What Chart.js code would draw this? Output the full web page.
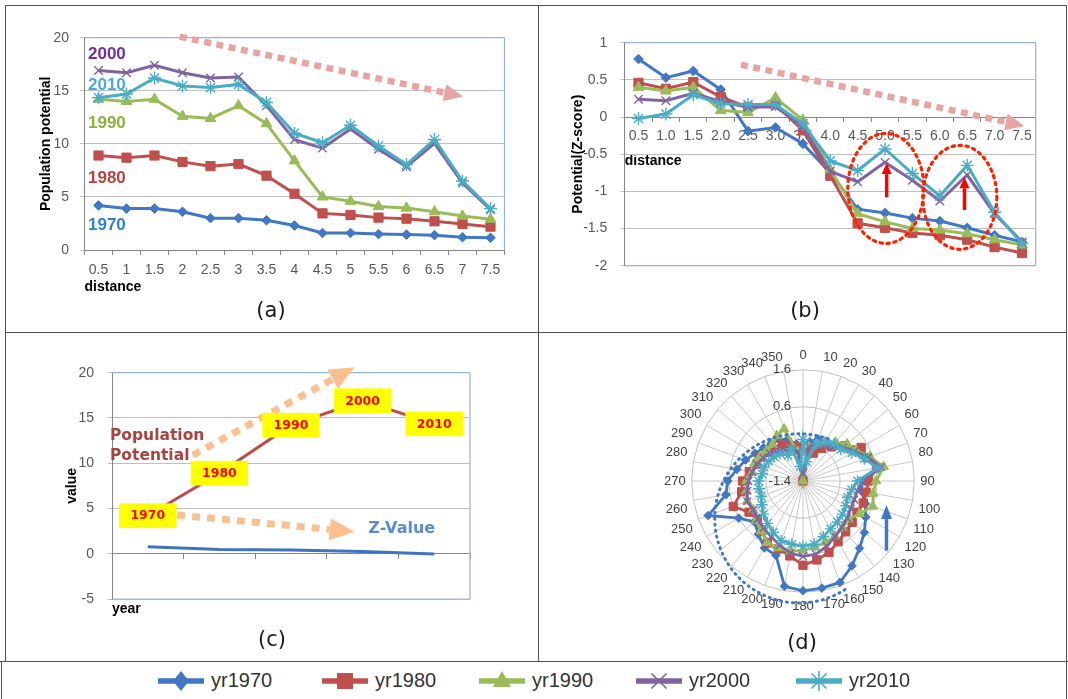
<!DOCTYPE html>
<html><head><meta charset="utf-8">
<script src="https://cdn.jsdelivr.net/npm/chart.js@4.4.1/dist/chart.umd.min.js"></script>
<style>
html,body{margin:0;padding:0;background:#fff}
body{position:relative;width:1068px;height:699px;overflow:hidden;font-family:"Liberation Sans",Arial,sans-serif}
canvas{position:absolute}
.ln{position:absolute;background:#505050}
.cap{position:absolute;font:21px "DejaVu Sans",sans-serif;color:#1a1a1a;transform:translate(-50%,-50%);white-space:nowrap}
.li{position:absolute;top:662px;height:37px;display:flex;align-items:center}
.li canvas{position:static}
.li span{font:20px "Liberation Sans",Arial,sans-serif;color:#333;margin-left:5px}
</style></head><body>
<div class="ln" style="left:5px;top:5px;width:1062px;height:1px"></div>
<div class="ln" style="left:5px;top:332px;width:1062px;height:1px"></div>
<div class="ln" style="left:0px;top:661px;width:1068px;height:1px"></div>
<div class="ln" style="left:5px;top:5px;width:1px;height:656px"></div>
<div class="ln" style="left:538px;top:5px;width:1px;height:656px"></div>
<div class="ln" style="left:1066px;top:5px;width:1px;height:694px"></div>
<div class="ln" style="left:1px;top:661px;width:1px;height:38px"></div>

<canvas id="ca" width="538" height="330" style="left:0;top:0"></canvas>
<canvas id="cb" width="530" height="330" style="left:538px;top:0"></canvas>
<canvas id="cc" width="538" height="332" style="left:0;top:330px"></canvas>
<canvas id="cd" width="300" height="300" style="left:653px;top:332px"></canvas>

<div class="cap" style="left:271px;top:310px">(a)</div>
<div class="cap" style="left:805px;top:310px">(b)</div>
<div class="cap" style="left:272px;top:639px">(c)</div>
<div class="cap" style="left:802px;top:642px">(d)</div>

<script>
// ---------------- DATA ----------------
const seriesNames = ['yr1970','yr1980','yr1990','yr2000','yr2010'];
const distA = ['0.5','1','1.5','2','2.5','3','3.5','4','4.5','5','5.5','6','6.5','7','7.5'];
const distB = ['0.5','1.0','1.5','2.0','2.5','3.0','3.5','4.0','4.5','5.0','5.5','6.0','6.5','7.0','7.5'];

// (a) population potential by distance
const pop1970 = [4.2,3.9,3.9,3.6,3.0,3.0,2.8,2.3,1.6,1.6,1.5,1.45,1.4,1.2,1.15];
const pop1980 = [8.9,8.7,8.9,8.3,7.9,8.1,7.0,5.3,3.45,3.3,3.05,2.95,2.7,2.45,2.2];
const pop1990 = [14.2,14.0,14.2,12.6,12.4,13.6,11.9,8.4,5.0,4.6,4.1,3.95,3.6,3.2,2.9];
const pop2000 = [16.9,16.7,17.4,16.7,16.2,16.3,13.6,10.4,9.6,11.4,9.5,7.85,10.05,6.3,3.8];
const pop2010 = [14.35,14.7,16.2,15.45,15.3,15.6,13.9,11.0,10.1,11.75,9.8,8.05,10.4,6.5,3.9];

// (b) potential z-score by distance
const z1970 = [0.78,0.53,0.62,0.37,-0.19,-0.14,-0.36,-0.75,-1.24,-1.29,-1.36,-1.40,-1.49,-1.59,-1.68];
const z1980 = [0.46,0.38,0.47,0.27,0.13,0.17,-0.18,-0.79,-1.43,-1.49,-1.56,-1.59,-1.65,-1.75,-1.83];
const z1990 = [0.40,0.35,0.40,0.09,0.06,0.26,-0.04,-0.71,-1.30,-1.41,-1.50,-1.52,-1.57,-1.65,-1.72];
const z2000 = [0.24,0.22,0.32,0.21,0.13,0.14,-0.13,-0.73,-0.87,-0.61,-0.85,-1.13,-0.78,-1.30,-1.68];
const z2010 = [-0.02,0.04,0.30,0.18,0.17,0.17,-0.09,-0.59,-0.72,-0.43,-0.76,-1.06,-0.65,-1.28,-1.70];

// (c) by year
const years = ['1970','1980','1990','2000','2010'];
const popPotential = [4.2,8.9,14.2,16.9,14.35];
const zValue = [0.78,0.46,0.40,0.24,-0.02];

// (d) z-score by direction
const directions = ['0','10','20','30','40','50','60','70','80','90','100','110','120','130','140','150','160','170',
  '180','190','200','210','220','230','240','250','260','270','280','290','300','310','320','330','340','350'];
const dir1970 = [-1.40,-0.33,-0.20,-0.17,-0.09,0.07,0.25,0.41,0.60,0.20,0.20,0.39,0.55,0.76,0.97,1.24,1.51,1.53,
  1.56,1.48,0.73,0.68,0.47,0.31,0.60,1.32,0.71,0.63,0.41,0.25,0.09,-0.01,-0.07,-0.12,-0.20,-0.39];
const dir1980 = [-1.40,-0.60,-0.60,-0.39,-0.20,0.07,0.41,0.44,0.63,0.36,0.33,0.33,0.28,0.33,0.39,0.49,0.65,0.76,
  0.87,0.65,0.55,0.52,0.33,0.20,0.28,0.60,0.28,0.23,0.07,-0.07,-0.09,-0.20,-0.28,-0.28,-0.39,-0.47];
const dir1990 = [-1.40,-0.47,-0.33,-0.20,-0.04,0.15,0.25,0.52,0.81,0.57,0.52,0.60,0.36,0.20,0.25,0.31,0.36,0.41,
  0.47,0.52,0.52,0.52,0.36,0.25,0.15,0.20,0.15,0.12,-0.01,-0.01,-0.07,-0.12,-0.12,0.01,0.09,-0.60];
const dir2000 = [-1.19,-0.47,-0.33,-0.28,-0.20,-0.01,0.20,0.47,0.73,0.20,0.09,0.07,0.09,0.15,0.23,0.33,0.47,0.60,
  0.63,0.57,0.44,0.33,0.25,0.20,0.15,0.20,0.12,0.07,-0.01,-0.07,-0.17,-0.23,-0.33,-0.44,-0.52,-0.60];
const dir2010 = [-0.28,-0.87,-0.33,-0.20,-0.09,-0.07,0.12,0.36,0.65,0.07,-0.07,-0.12,-0.07,-0.01,0.04,0.09,0.20,0.33,
  0.36,0.33,0.31,0.20,0.09,-0.01,-0.12,-0.20,-0.20,-0.20,-0.28,-0.28,-0.33,-0.39,-0.44,-0.60,-0.47,-1.00];

// ---------------- STYLE ----------------
const FONT = '"Liberation Sans", Arial, sans-serif';
Chart.defaults.font.family = FONT;
Chart.defaults.color = '#595959';
const STY = [
  {c:'#4177C5', ps:'rectRot', r:4.8, bw:1},
  {c:'#C0504D', ps:'rect', r:6.5, bw:1},
  {c:'#9BBB59', ps:'triangle', r:6.2, bw:1},
  {c:'#8064A2', ps:'crossRot', r:6, bw:1.4},
  {c:'#4BACC6', ps:'star', r:6.5, bw:1.4}
];
function mkDS(i, data, opt){
  const s = STY[i];
  return Object.assign({label: seriesNames[i], data, borderColor:s.c, backgroundColor:s.c,
    pointBackgroundColor:s.c, pointBorderColor:s.c, pointStyle:s.ps, pointRadius:s.r,
    pointBorderWidth:s.bw, borderWidth:3, tension:0, fill:false, order:5-i}, opt||{});
}
const tickFont = {family:FONT, size:14};
const titleFont = {family:FONT, size:14, weight:'bold'};
const GRID = '#BFBFBF', AXIS = '#868686', FRAME = '#95B3D7';
const plainNum = v => String(+Number(v).toFixed(2));

function dashedArrow(ctx, x1,y1,x2,y2, color, lw, dash, headLen, headW){
  const a = Math.atan2(y2-y1, x2-x1);
  const bx = x2 - headLen*Math.cos(a), by = y2 - headLen*Math.sin(a);
  ctx.save();
  ctx.strokeStyle = color; ctx.lineWidth = lw; ctx.setLineDash(dash); ctx.lineCap='butt';
  ctx.beginPath(); ctx.moveTo(x1,y1); ctx.lineTo(bx,by); ctx.stroke();
  ctx.setLineDash([]); ctx.fillStyle = color;
  ctx.beginPath(); ctx.moveTo(x2,y2);
  ctx.lineTo(bx + headW/2*Math.sin(a), by - headW/2*Math.cos(a));
  ctx.lineTo(bx - headW/2*Math.sin(a), by + headW/2*Math.cos(a));
  ctx.closePath(); ctx.fill(); ctx.restore();
}
function frame(sides){
  return {id:'frame', beforeDatasetsDraw(chart){
    const {ctx, chartArea:a} = chart; ctx.save(); ctx.strokeStyle = FRAME; ctx.lineWidth = 1.2;
    ctx.beginPath();
    if (sides.includes('t')) { ctx.moveTo(a.left, a.top); ctx.lineTo(a.right, a.top); }
    if (sides.includes('r')) { ctx.moveTo(a.right, a.top); ctx.lineTo(a.right, a.bottom); }
    if (sides.includes('b')) { ctx.moveTo(a.left, a.bottom); ctx.lineTo(a.right, a.bottom); }
    ctx.stroke(); ctx.restore();
  }};
}
const baseOpts = {responsive:false, animation:false, events:[],
  plugins:{legend:{display:false}, tooltip:{enabled:false}}};

// ---------------- (a) ----------------
const tagsA = [['2000',18.4,'#7030A0'],['2010',15.5,'#4FA8DC'],['1990',11.9,'#8DB03E'],['1980',6.8,'#B8413E'],['1970',2.3,'#2E83D0']];
new Chart(document.getElementById('ca'), {
  type:'line',
  data:{labels:distA, datasets:[mkDS(0,pop1970),mkDS(1,pop1980),mkDS(2,pop1990),mkDS(3,pop2000),mkDS(4,pop2010)]},
  options:Object.assign({}, baseOpts, {
    layout:{autoPadding:false, padding:{left:0, top:37.7, right:33.5, bottom:30}},
    scales:{
      x:{offset:true, grid:{display:true, drawOnChartArea:false, offset:true, tickLength:5, color:AXIS},
         border:{color:AXIS}, ticks:{font:tickFont, color:'#595959', padding:7, maxRotation:0, autoSkip:false},
         title:{display:true, text:'distance', align:'start', font:titleFont, color:'#000', padding:{top:0,bottom:4.6}},
         afterFit:s=>{s.height=50;}},
      y:{min:0, max:20, ticks:{stepSize:5, font:tickFont, color:'#595959', padding:11},
         grid:{color:GRID, tickLength:4.5}, border:{color:AXIS},
         title:{display:true, text:'Population potential', font:titleFont, color:'#000', padding:{top:37.6,bottom:0}},
         afterFit:s=>{s.width=84.5;}}
    }
  }),
  plugins:[frame('tr'), {id:'annoA', afterDatasetsDraw(chart){
    const {ctx, chartArea:a, scales:{x,y}} = chart;
    ctx.save(); ctx.font = 'bold 17px ' + FONT; ctx.textBaseline='middle'; ctx.textAlign='left';
    tagsA.forEach(([t,v,c])=>{ ctx.fillStyle=c; ctx.fillText(t, a.left+3.5, y.getPixelForValue(v)); });
    ctx.restore();
    dashedArrow(ctx, x.getPixelForValue(2.9), y.getPixelForValue(20.1), x.getPixelForValue(13.02), y.getPixelForValue(14.46),
      '#E8A3A3', 6.5, [7,5.5], 19, 17);
  }}]
});

// ---------------- (b) ----------------
new Chart(document.getElementById('cb'), {
  type:'line',
  data:{labels:distB, datasets:[mkDS(0,z1970),mkDS(1,z1980),mkDS(2,z1990),mkDS(3,z2000),mkDS(4,z2010)]},
  options:Object.assign({}, baseOpts, {
    layout:{autoPadding:false, padding:{left:0, top:42.7, right:32.3, bottom:64.3}},
    scales:{
      x:{position:{y:0}, offset:true, grid:{display:true, drawOnChartArea:false, offset:true, tickLength:4, color:AXIS},
         border:{color:AXIS}, ticks:{font:tickFont, color:'#595959', padding:7, maxRotation:0, autoSkip:false},
         title:{display:true, text:'distance', align:'start', font:titleFont, color:'#000', padding:{top:0,bottom:7.6}},
         afterFit:s=>{s.height=60;}},
      y:{min:-2, max:1, ticks:{stepSize:0.5, font:tickFont, color:'#595959', padding:13, callback:plainNum},
         grid:{color:GRID, tickLength:4.5}, border:{color:AXIS},
         title:{display:true, text:'Potential(Z-score)', font:titleFont, color:'#000', padding:{top:32,bottom:0}},
         afterFit:s=>{s.width=86.8;}}
    }
  }),
  plugins:[frame('trb'), {id:'annoB', afterDatasetsDraw(chart){
    const {ctx, scales:{x,y}} = chart;
    dashedArrow(ctx, x.getPixelForValue(3.74), y.getPixelForValue(0.705), x.getPixelForValue(14.09), y.getPixelForValue(-0.12),
      '#E8A3A3', 6.5, [7,5.5], 19, 17);
    ctx.save(); ctx.strokeStyle='#FF2200'; ctx.lineWidth=3.2; ctx.setLineDash([2.5,4.5]); ctx.lineCap='round';
    [[9.03,-0.96,38,55],[11.73,-1.08,37,52]].forEach(([i,v,rx,ry])=>{
      ctx.beginPath(); ctx.ellipse(x.getPixelForValue(i), y.getPixelForValue(v), rx, ry, 0, 0, Math.PI*2); ctx.stroke();
    });
    ctx.restore();
    [[9.06,-1.08,-0.62],[11.9,-1.25,-0.81]].forEach(([i,v0,v1])=>{
      const px = x.getPixelForValue(i);
      dashedArrow(ctx, px, y.getPixelForValue(v0), px, y.getPixelForValue(v1), '#FF0000', 3.5, [], 11, 10);
    });
  }}]
});

// ---------------- (c) ----------------
new Chart(document.getElementById('cc'), {
  type:'line',
  data:{labels:years, datasets:[
    {label:'Population Potential', data:popPotential, borderColor:'#BE4B48', borderWidth:3, pointRadius:0, tension:0, fill:false},
    {label:'Z-Value', data:zValue, borderColor:'#3F73C0', borderWidth:3, pointRadius:0, tension:0, fill:false}
  ]},
  options:Object.assign({}, baseOpts, {
    layout:{autoPadding:false, padding:{left:0, top:42.7, right:68, bottom:33}},
    scales:{
      x:{position:{y:0}, offset:true, grid:{display:true, drawOnChartArea:false, offset:true, tickLength:5, color:AXIS},
         border:{color:AXIS}, ticks:{display:false}, afterFit:s=>{s.height=10;}},
      x2:{type:'category', position:'bottom', offset:true, grid:{display:false}, border:{display:false},
         ticks:{display:false}, title:{display:true, text:'year', align:'start', font:titleFont, color:'#000', padding:{top:0,bottom:11.3}},
         afterFit:s=>{s.height=30;}},
      y:{min:-5, max:20, ticks:{stepSize:5, font:tickFont, color:'#595959', padding:13.5},
         grid:{color:GRID, tickLength:4.5}, border:{color:AXIS},
         title:{display:true, text:'value', font:titleFont, color:'#000', padding:{top:64,bottom:0}},
         afterFit:s=>{s.width=112;}}
    }
  }),
  plugins:[frame('trb'), {id:'annoC', afterDatasetsDraw(chart){
    const {ctx, chartArea:a, scales:{x,y}} = chart;
    const OR = '#FAC090';
    dashedArrow(ctx, x.getPixelForValue(0.63), y.getPixelForValue(10.9), x.getPixelForValue(2.89), y.getPixelForValue(20.6), OR, 7, [8,7], 25, 22);
    dashedArrow(ctx, x.getPixelForValue(0.41), y.getPixelForValue(4.28), x.getPixelForValue(2.89), y.getPixelForValue(2.43), OR, 7, [8,7], 25, 22);
    ctx.save();
    ctx.font = 'bold 15.5px "DejaVu Sans", sans-serif'; ctx.textBaseline='middle'; ctx.textAlign='left';
    ctx.fillStyle = '#A8433F';
    ctx.fillText('Population', a.left-2, y.getPixelForValue(13.0));
    ctx.fillText('Potential', a.left-2, y.getPixelForValue(10.8));
    ctx.fillStyle = '#5B8BD0';
    ctx.font = 'bold 16px "DejaVu Sans", sans-serif';
    ctx.fillText('Z-Value', x.getPixelForValue(3.08), y.getPixelForValue(2.8));
    const meta = chart.getDatasetMeta(0);
    ctx.font = 'bold 12.5px "DejaVu Sans", sans-serif'; ctx.textAlign='center';
    meta.data.forEach((pt, i)=>{
      ctx.fillStyle = '#FFFF00'; ctx.fillRect(pt.x-28.75, pt.y-12.35, 57.5, 24.7);
      ctx.fillStyle = '#FF0000'; ctx.fillText(years[i], pt.x, pt.y+0.5);
    });
    ctx.restore();
  }}]
});

// ---------------- (d) ----------------
const rds = (i, data) => { const d = mkDS(i, data); d.borderWidth = 2.8; d.pointRadius = STY[i].r*0.9; return d; };
new Chart(document.getElementById('cd'), {
  type:'radar',
  data:{labels:directions, datasets:[rds(0,dir1970),rds(1,dir1980),rds(2,dir1990),rds(3,dir2000),rds(4,dir2010)]},
  options:Object.assign({}, baseOpts, {
    layout:{autoPadding:false, padding:11},
    scales:{r:{min:-1.4, max:1.6, ticks:{stepSize:1, display:false},
      grid:{color:'#BFBFBF'}, angleLines:{color:'#C8C8C8'},
      pointLabels:{color:'#404040', font:{family:FONT, size:13}, padding:6}}}
  }),
  plugins:[{id:'annoD', beforeDatasetsDraw(chart){
    const s = chart.scales.r, ctx = chart.ctx;
    ctx.save(); ctx.font = '13px ' + FONT; ctx.fillStyle = '#404040'; ctx.textAlign='right'; ctx.textBaseline='middle';
    s.ticks.forEach(t=>{ ctx.fillText(t.label, s.xCenter-12, s.yCenter - s.getDistanceFromCenterForValue(t.value)); });
    ctx.restore();
  }, afterDatasetsDraw(chart){
    const s = chart.scales.r, ctx = chart.ctx, R = s.drawingArea, xc = s.xCenter, yc = s.yCenter;
    ctx.save(); ctx.strokeStyle = '#4177C5'; ctx.lineWidth = 3; ctx.setLineDash([1,5]); ctx.lineCap='round';
    ctx.beginPath(); ctx.arc(xc - 0.033*R, yc + 0.336*R, 0.76*R, -70*Math.PI/180, 55*Math.PI/180, true); ctx.stroke();
    ctx.restore();
    dashedArrow(ctx, xc + 0.75*R, yc + 0.625*R, xc + 0.75*R, yc + 0.216*R, '#4177C5', 3.5, [], 14, 11);
  }}]
});

// ---------------- legend ----------------
function drawMarker(ctx, st, x, y, r, c){
  ctx.fillStyle = c; ctx.strokeStyle = c; ctx.lineWidth = 1.6; ctx.beginPath();
  if (st==='rectRot'){ ctx.moveTo(x,y-r); ctx.lineTo(x+r*0.8,y); ctx.lineTo(x,y+r); ctx.lineTo(x-r*0.8,y); ctx.closePath(); ctx.fill(); }
  else if (st==='rect'){ ctx.fillRect(x-r*0.8,y-r*0.8,r*1.6,r*1.6); }
  else if (st==='triangle'){ ctx.moveTo(x,y-r); ctx.lineTo(x+r*0.9,y+r*0.6); ctx.lineTo(x-r*0.9,y+r*0.6); ctx.closePath(); ctx.fill(); }
  else if (st==='crossRot'){ const k=r*0.75; ctx.moveTo(x-k,y-k); ctx.lineTo(x+k,y+k); ctx.moveTo(x+k,y-k); ctx.lineTo(x-k,y+k); ctx.stroke(); }
  else if (st==='star'){ const k=r*0.75; ctx.moveTo(x-k,y-k); ctx.lineTo(x+k,y+k); ctx.moveTo(x+k,y-k); ctx.lineTo(x-k,y+k); ctx.moveTo(x,y-r); ctx.lineTo(x,y+r); ctx.stroke(); }
}
const legendX = [156, 320, 477, 634, 794];
seriesNames.forEach((n,i)=>{
  const d = document.createElement('div'); d.className='li'; d.style.left = legendX[i]+'px';
  const c = document.createElement('canvas'); c.width = 50; c.height = 26; d.appendChild(c);
  const ctx = c.getContext('2d');
  ctx.strokeStyle = STY[i].c; ctx.lineWidth = 5.5; ctx.beginPath(); ctx.moveTo(2,13); ctx.lineTo(48,13); ctx.stroke();
  drawMarker(ctx, STY[i].ps, 25, 13, 10, STY[i].c);
  const sp = document.createElement('span'); sp.textContent = n; d.appendChild(sp);
  document.body.appendChild(d);
});
</script>
</body></html>
